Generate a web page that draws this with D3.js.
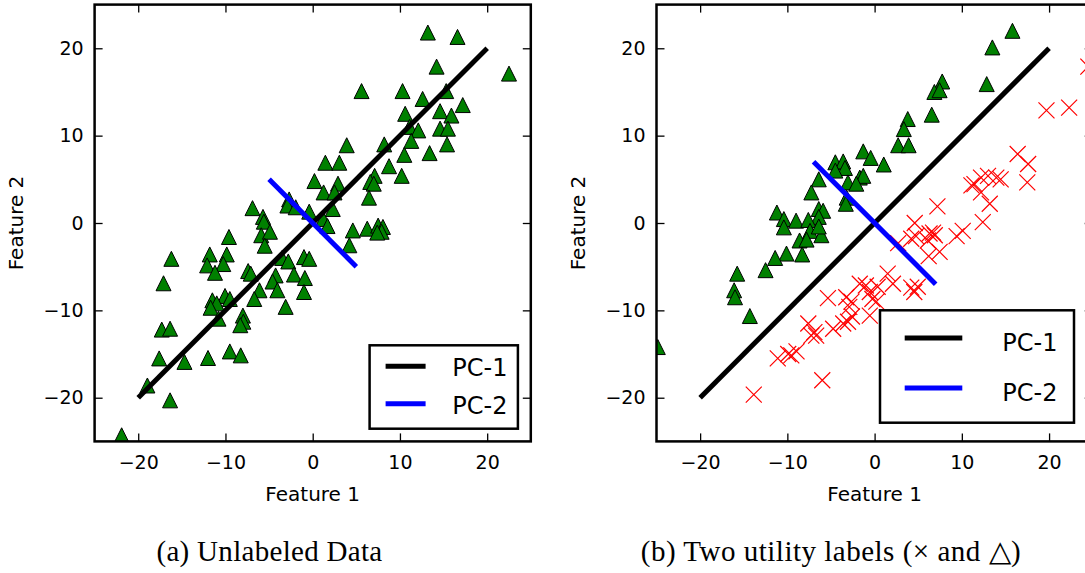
<!DOCTYPE html>
<html>
<head>
<meta charset="utf-8">
<script src="https://cdn.jsdelivr.net/npm/d3@7"></script>
<style>
  body { margin: 0; background: #fff; }
  svg { display: block; }
  .tick text { font-family: "DejaVu Sans", sans-serif; }
</style>
</head>
<body>
<div id="chart-area"></div>
<script>
// tick values used on both axes of both panels
var tickValues = [-20, -10, 0, 10, 20];

// (a) unlabeled data, [feature1, feature2]
var unlabeledPoints = [
  [13.2, 21.8], [16.6, 21.3], [14.2, 17.9], [22.5, 17.1], [5.6, 15.1], [10.3, 15.1], [15.3, 15.1],
  [12.6, 14.2], [17.2, 13.5], [14.6, 12.8], [15.9, 12.3], [10.6, 12.5], [11.1, 11.0], [12.1, 10.6],
  [14.6, 10.8], [15.5, 10.8], [11.3, 9.4], [15.4, 9.0], [13.4, 8.0], [3.9, 8.9], [8.2, 9.0],
  [10.5, 7.8], [1.45, 6.9], [3.05, 6.9], [8.75, 6.5], [10.2, 5.4], [7.1, 5.4], [6.6, 4.7],
  [7.0, 4.5], [6.45, 2.9], [0.2, 4.8], [1.25, 3.5], [2.9, 4.5], [2.5, 3.5], [2.3, 1.6], [1.2, 0.45],
  [1.7, -0.35], [4.6, -0.85], [6.25, -0.65], [7.5, -0.3], [8.05, -0.45], [7.9, -1.0], [7.4, -1.1],
  [4.2, -2.55],
  [-6.9, 1.7], [-2.7, 2.7], [-2.9, 2.0], [-1.95, 1.8], [-0.4, 1.3],
  [-5.7, 0.7], [-5.6, 0.15], [-5.9, -1.4], [-4.9, -1.0], [-5.5, -2.6],
  [-9.6, -1.6], [-16.2, -4.1], [-11.8, -3.6], [-9.85, -3.6], [-12.1, -4.85], [-10.25, -4.7],
  [-11.2, -5.7], [-7.4, -5.5], [-7.1, -5.8], [-3.5, -4.0], [-2.8, -4.4], [-1.0, -3.9], [-0.4, -4.1],
  [-2.15, -5.9], [-4.25, -6.0], [-4.6, -6.7], [-0.9, -6.3], [-1.0, -7.9], [-4.05, -7.7], [-6.1, -7.7],
  [-6.7, -8.7], [-17.1, -6.9], [-11.5, -8.85], [-10.05, -8.35], [-9.5, -8.7], [-11.0, -9.2],
  [-11.7, -9.7], [-10.8, -10.95], [-8.0, -10.6], [-7.95, -11.3], [-8.3, -11.7], [-3.1, -9.6],
  [-17.3, -12.2], [-16.35, -12.1], [-17.6, -15.5], [-14.7, -15.9], [-12.0, -15.45], [-9.5, -14.7],
  [-8.25, -15.15], [-18.95, -18.6], [-16.35, -20.3], [-21.9, -24.3]
];

// (b) triangle label
var trianglePoints = [
  [-1.3, 8.2], [-0.45, 7.45], [-4.5, 6.95], [-3.6, 7.05], [-3.4, 6.3], [-4.5, 6.0], [-6.4, 5.0],
  [-7.25, 3.5], [-3.05, 4.65], [-1.7, 5.2], [-1.3, 5.4], [-2.1, 4.5], [-3.2, 2.9], [-3.3, 2.2],
  [-6.4, 1.6], [-5.9, 1.4], [-6.4, 0.7], [-11.2, 1.2], [-10.4, 0.45], [-9.0, 0.27], [-7.6, 0.35],
  [15.8, 22.0], [13.5, 20.1], [12.85, 15.9], [7.75, 16.2], [6.85, 15.0], [7.45, 15.2], [6.55, 12.4],
  [3.8, 11.9], [3.35, 10.75], [2.7, 8.9], [3.9, 8.9], [1.05, 6.7],
  [-10.4, -0.5], [-7.4, -0.9], [-6.1, -1.4], [-6.4, -0.4], [-8.6, -2.0], [-7.8, -1.9],
  [-8.3, -3.6], [-10.1, -3.5], [-11.4, -4.0], [-12.5, -5.4], [-15.75, -5.8], [-16.1, -7.7],
  [-16.0, -8.5], [-14.3, -10.65], [-24.85, -14.2]
];

// (b) cross label
var crossPoints = [
  [19.7, 12.9], [22.3, 13.2], [24.5, 17.9], [16.4, 7.9], [17.6, 6.75], [17.5, 4.65], [11.45, 4.45],
  [12.2, 5.2], [13.0, 5.4], [13.95, 5.2], [14.45, 5.0], [11.1, 4.3], [12.2, 3.5], [13.2, 2.2],
  [7.2, 1.9], [12.4, 0.1], [4.6, 0.0], [10.1, -0.9], [9.4, -1.5], [6.3, -1.2], [6.7, -1.1],
  [6.9, -1.4], [6.1, -2.0], [4.2, -1.8], [4.75, -1.5], [7.45, -3.3], [6.2, -3.8], [2.7, -2.3],
  [1.5, -5.8], [2.1, -6.95], [4.2, -7.4], [4.95, -7.3], [4.55, -7.9],
  [0.35, -7.3], [-1.7, -6.95], [-1.0, -7.15], [-0.55, -7.9], [-0.25, -8.7], [0.2, -9.0],
  [-0.55, -10.6], [-3.05, -11.3], [-3.6, -11.5], [-2.6, -10.7], [-4.75, -12.1], [-5.35, -8.6],
  [-3.25, -8.5], [-2.65, -9.0], [-2.9, -9.6], [-7.6, -11.5], [-6.9, -12.5], [-6.7, -12.9],
  [-7.25, -12.9], [-11.1, -15.5], [-9.9, -15.0], [-9.55, -15.15], [-8.95, -14.7], [-6.0, -18.0],
  [-13.85, -19.65]
];

// principal component segments
var pc1Line = [[-20, -20], [20, 20]];
var pc2LineA = [[-5, 5], [5, -5]];
var pc2LineB = [[-7, 7], [7, -7]];

var legendNames = ['PC-1', 'PC-2'];
var legendColors = ['#000000', '#0000ff'];

var svg = d3.select('#chart-area').append('svg')
    .attr('width', 1085)
    .attr('height', 573);

var width = 436.2;
var height = 436.8;

var x = d3.scaleLinear().domain([-25, 25]).range([0, width]);
var y = d3.scaleLinear().domain([-25, 25]).range([height, 0]);

var line = d3.line().x(d => x(d[0])).y(d => y(d[1]));

var triPath = 'M0,-7.5L-7.5,7.5L7.5,7.5Z';
var crossPath = 'M-8,-8L8,8M-8,8L8,-8';

function drawPanel(id, left, top) {
    var g = svg.append('g').attr('transform', `translate(${left}, ${top})`);

    g.append('clipPath').attr('id', 'clip-' + id)
        .append('rect').attr('width', width).attr('height', height);

    var plot = g.append('g').attr('clip-path', `url(#clip-${id})`);

    // axes: labels on bottom/left, inward ticks on all sides
    var bottom = g.append('g').attr('transform', `translate(0, ${height})`)
        .call(d3.axisBottom(x).tickValues(tickValues).tickSize(-8).tickPadding(14)
            .tickFormat(d => d < 0 ? '\u2212' + Math.abs(d) : d));
    var leftAx = g.append('g')
        .call(d3.axisLeft(y).tickValues(tickValues).tickSize(-8).tickPadding(11)
            .tickFormat(d => d < 0 ? '\u2212' + Math.abs(d) : d));
    var topAx = g.append('g')
        .call(d3.axisTop(x).tickValues(tickValues).tickSize(-8).tickFormat(''));
    var rightAx = g.append('g').attr('transform', `translate(${width}, 0)`)
        .call(d3.axisRight(y).tickValues(tickValues).tickSize(-8).tickFormat(''));

    [bottom, leftAx, topAx, rightAx].forEach(a => {
        a.select('.domain').remove();
        a.selectAll('.tick line').attr('stroke', '#000').attr('stroke-width', 1.3);
        a.selectAll('.tick text').attr('font-size', '19px').attr('fill', '#000');
    });
    g.selectAll('.tick text').attr('font-family', '"DejaVu Sans", sans-serif');

    g.append('text')
        .attr('x', width / 2)
        .attr('y', 496)
        .attr('text-anchor', 'middle')
        .attr('font-family', '"DejaVu Sans", sans-serif')
        .attr('font-size', '20px')
        .text('Feature 1');

    g.append('text')
        .attr('x', -height / 2)
        .attr('y', -72)
        .attr('transform', 'rotate(-90)')
        .attr('text-anchor', 'middle')
        .attr('font-family', '"DejaVu Sans", sans-serif')
        .attr('font-size', '20px')
        .text('Feature 2');

    return { g: g, plot: plot };
}

function drawLines(plot, pc2) {
    plot.append('path').datum(pc1Line)
        .attr('d', line).attr('fill', 'none')
        .attr('stroke', legendColors[0]).attr('stroke-width', 5);
    plot.append('path').datum(pc2)
        .attr('d', line).attr('fill', 'none')
        .attr('stroke', legendColors[1]).attr('stroke-width', 5);
}

function drawTriangles(plot, data) {
    plot.selectAll(null).data(data).enter()
        .append('path')
        .attr('d', triPath)
        .attr('transform', d => `translate(${x(d[0])}, ${y(d[1])})`)
        .attr('fill', '#008000')
        .attr('stroke', '#000')
        .attr('stroke-width', 1);
}

function drawLegend(g, box) {
    g.append('rect')
        .attr('x', box.x).attr('y', box.y)
        .attr('width', box.w).attr('height', box.h)
        .attr('fill', '#fff').attr('stroke', '#000').attr('stroke-width', 2.5);
    legendNames.forEach((name, i) => {
        var ly = box.lineY[i];
        g.append('line')
            .attr('x1', box.lineX[0]).attr('x2', box.lineX[1])
            .attr('y1', ly).attr('y2', ly)
            .attr('stroke', legendColors[i]).attr('stroke-width', 5);
        g.append('text')
            .attr('x', box.textX).attr('y', ly + box.textDy)
            .attr('font-family', '"DejaVu Sans", sans-serif')
            .attr('font-size', '24px')
            .text(name);
    });
}

function drawFrame(g) {
    g.append('rect')
        .attr('width', width).attr('height', height)
        .attr('fill', 'none').attr('stroke', '#000').attr('stroke-width', 2.5);
}

// panel (a)
var pa = drawPanel('a', 94.6, 4.6);
drawTriangles(pa.plot, unlabeledPoints);
drawLines(pa.plot, pc2LineA);
drawFrame(pa.g);
drawLegend(pa.g, { x: 275, y: 340.7, w: 148.3, h: 83.4, lineX: [291, 331], lineY: [361.7, 399.1], textX: 357.7, textDy: 10 });

// panel (b)
var pb = drawPanel('b', 656.5, 4.6);
drawTriangles(pb.plot, trianglePoints);
pb.plot.selectAll(null).data(crossPoints).enter()
    .append('path')
    .attr('d', crossPath)
    .attr('transform', d => `translate(${x(d[0])}, ${y(d[1])})`)
    .attr('fill', 'none')
    .attr('stroke', '#ff0000')
    .attr('stroke-width', 1.2);
drawLines(pb.plot, pc2LineB);
drawFrame(pb.g);
drawLegend(pb.g, { x: 223.5, y: 305.7, w: 194, h: 112.4, lineX: [248.2, 305.8], lineY: [333.4, 383.4], textX: 345.8, textDy: 13 });

// captions
svg.append('text')
    .attr('x', 269.5).attr('y', 561)
    .attr('text-anchor', 'middle')
    .attr('font-family', '"Liberation Serif", serif')
    .attr('font-size', '29px')
    .attr('letter-spacing', '0.3px')
    .text('(a) Unlabeled Data');

svg.append('text')
    .attr('x', 831).attr('y', 561)
    .attr('text-anchor', 'middle')
    .attr('font-family', '"Liberation Serif", serif')
    .attr('font-size', '29px')
    .attr('letter-spacing', '0.5px')
    .text('(b) Two utility labels (\u00d7 and \u25b3)');
</script>
</body>
</html>
